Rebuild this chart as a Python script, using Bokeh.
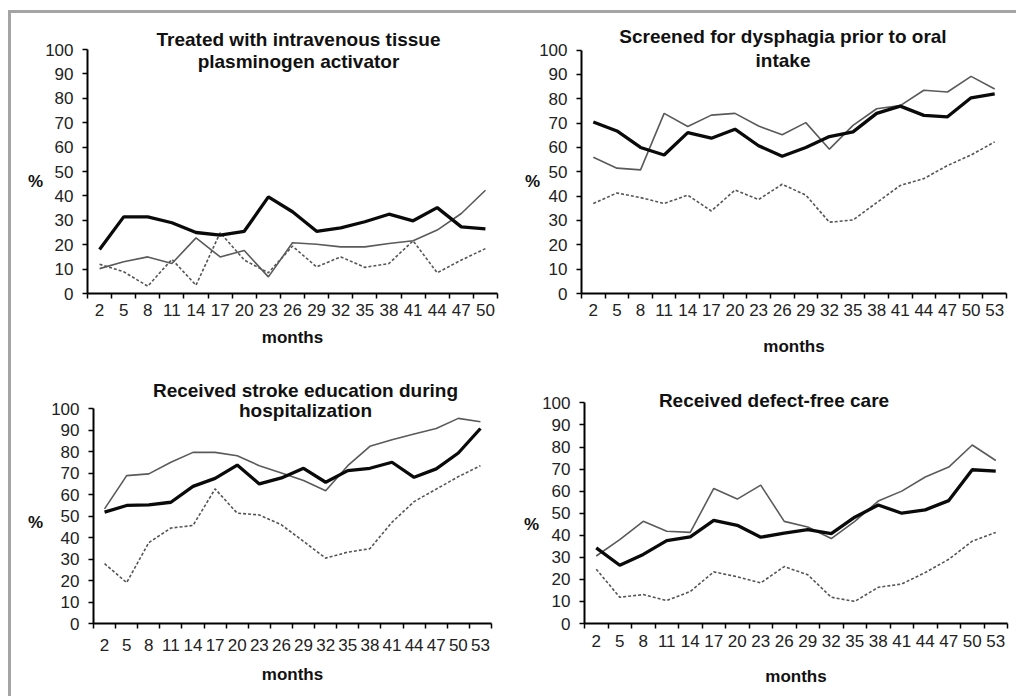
from bokeh.plotting import figure
from bokeh.layouts import row, column
from bokeh.models import Range1d, FixedTicker, Label
from bokeh.embed import file_html
from bokeh.resources import INLINE

# ---------------- data ----------------
months_a = [2, 5, 8, 11, 14, 17, 20, 23, 26, 29, 32, 35, 38, 41, 44, 47, 50]
months_b = [2, 5, 8, 11, 14, 17, 20, 23, 26, 29, 32, 35, 38, 41, 44, 47, 50, 53]
y_ticks = [0, 10, 20, 30, 40, 50, 60, 70, 80, 90, 100]

title_tpa = ["Treated with intravenous tissue", "plasminogen activator"]
tpa_thick = [18, 31.4, 31.4, 29, 25, 23.9, 25.5, 39.6, 33.5, 25.5, 26.9, 29.4, 32.5, 29.8, 35.2, 27.3, 26.5]
tpa_thin = [10.2, 13, 15, 12.3, 22.8, 15, 17.6, 6.8, 20.8, 20.2, 19.1, 19.1, 20.5, 21.6, 26, 32.8, 42.3]
tpa_dash = [12, 8.9, 3, 14, 3.4, 24.9, 13.7, 8.5, 19.4, 10.9, 15, 10.7, 12.3, 21.6, 8.5, 13.7, 18.4]

title_dys = ["Screened for dysphagia prior to oral", "intake"]
dys_thick = [70.5, 66.8, 60, 56.9, 66.1, 63.8, 67.5, 60.7, 56.4, 60, 64.5, 66.4, 74, 77, 73.2, 72.6, 80.4, 82]
dys_thin = [56, 51.5, 50.8, 74, 68.6, 73.3, 74, 68.8, 65.2, 70.2, 59.3, 69.1, 75.9, 77.2, 83.5, 82.8, 89.2, 84]
dys_dash = [37, 41.3, 39.4, 37, 40.4, 33.9, 42.5, 38.6, 44.9, 40.4, 29.3, 30.2, 37.3, 44.4, 47.2, 52.6, 56.9, 62.3]

title_edu = ["Received stroke education during", "hospitalization"]
edu_thick = [51.8, 54.9, 55.2, 56.4, 63.8, 67.5, 73.7, 64.9, 67.7, 72.2, 65.7, 71.1, 72.2, 75, 68, 71.9, 79.3, 90.7]
edu_thin = [53.3, 68.8, 69.6, 75, 79.6, 79.6, 78, 73.4, 70, 66.5, 61.7, 73.4, 82.4, 85.5, 88.1, 90.7, 95.4, 93.8]
edu_dash = [27.8, 19, 37.6, 44.4, 45.6, 62.6, 51.3, 50.5, 45.9, 38.2, 30.4, 33.2, 34.8, 47.1, 56.7, 62.5, 68.3, 73.4]

title_dfc = ["Received defect-free care"]
dfc_thick = [34.3, 26.4, 31.3, 37.6, 39.3, 46.7, 44.5, 39.1, 41, 42.5, 40.7, 48.2, 53.7, 50, 51.5, 55.7, 69.7, 69.1]
dfc_thin = [30.6, 38, 46.3, 41.8, 41.3, 61.2, 56.4, 62.7, 46.3, 43.7, 38.5, 46.3, 55.5, 60, 66.4, 70.9, 80.9, 73.9]
dfc_dash = [24.6, 11.9, 13.1, 10.4, 14.5, 23.4, 21.2, 18.4, 25.8, 22.1, 11.9, 10, 16.4, 17.9, 23.1, 29.1, 37.3, 41.3]

FONT = "Liberation Sans"


def make_panel(months, thick, thin, dashed, title, width, height,
               mbl, mbr, t100, b0, title_x_off, title_ys,
               xl_standoff, xal_standoff, yal_standoff, pct_shift):
    step = months[1] - months[0]
    lo, hi = months[0] - step / 2, months[-1] + step / 2
    mbt = 2
    px_per_unit = (b0 - t100) / 100.0
    y_top = 100 + (t100 - mbt) / px_per_unit
    p = figure(width=width, height=height, output_backend="svg", toolbar_location=None,
               x_range=Range1d(lo, hi), y_range=Range1d(0, y_top),
               min_border_left=mbl, min_border_right=mbr,
               min_border_top=mbt, min_border_bottom=height - b0)
    p.xgrid.visible = False
    p.ygrid.visible = False
    p.outline_line_color = None
    p.background_fill_color = "white"
    p.border_fill_color = "white"

    bounds = [m - step / 2 for m in months] + [months[-1] + step / 2]
    xa = p.xaxis[0]
    xa.ticker = FixedTicker(ticks=months, minor_ticks=bounds)
    xa.major_tick_in = 0
    xa.major_tick_out = 0
    xa.minor_tick_in = 0
    xa.minor_tick_out = 5
    xa.minor_tick_line_color = "black"
    xa.minor_tick_line_width = 1.5
    xa.axis_line_width = 2
    xa.axis_line_color = "black"
    xa.major_label_text_font = FONT
    xa.major_label_text_font_size = "17px"
    xa.major_label_text_color = "#222222"
    xa.major_label_standoff = xl_standoff
    xa.axis_label = "months"
    xa.axis_label_text_font = FONT
    xa.axis_label_text_font_size = "17px"
    xa.axis_label_text_font_style = "bold"
    xa.axis_label_text_color = "#111111"
    xa.axis_label_standoff = xal_standoff

    ya = p.yaxis[0]
    ya.ticker = FixedTicker(ticks=y_ticks)
    ya.bounds = (y_ticks[0], y_ticks[-1])
    ya.major_tick_in = 0
    ya.major_tick_out = 5
    ya.major_tick_line_width = 1.5
    ya.minor_tick_in = 0
    ya.minor_tick_out = 0
    ya.axis_line_width = 2
    ya.axis_line_color = "black"
    ya.major_label_text_font = FONT
    ya.major_label_text_font_size = "17px"
    ya.major_label_text_color = "#222222"
    ya.major_label_standoff = 9
    # leading empty lines push the "%" down toward the middle of the 0-100 axis
    ya.axis_label = "\n\n%"
    ya.axis_label_text_line_height = pct_shift / 17.0
    ya.axis_label_orientation = "horizontal"
    ya.axis_label_text_font = FONT
    ya.axis_label_text_font_size = "17px"
    ya.axis_label_text_font_style = "bold"
    ya.axis_label_text_color = "#111111"
    ya.axis_label_standoff = yal_standoff

    p.line(months, dashed, line_color="#555555", line_width=1.6, line_dash="3 2")
    p.line(months, thin, line_color="#5a5a5a", line_width=1.6)
    p.line(months, thick, line_color="#0a0a0a", line_width=3.3)

    xmid = (months[0] + months[-1]) / 2
    for txt, ty in zip(title, title_ys):
        p.add_layout(Label(x=xmid, y=ty, text=txt, x_offset=title_x_off,
                           text_align="center", text_baseline="alphabetic",
                           text_font=FONT, text_font_size="19px",
                           text_font_style="bold", text_color="#111111"))
    return p


# figure tops are at page y=13 (row 1) and y=360 (row 2)
p1 = make_panel(months_a, tpa_thick, tpa_thin, tpa_dash, title_tpa, 489, 347,
                76, 3, 36, 280, 6, (104.0, 95.1), 5, 9, -1, 24)
p2 = make_panel(months_b, dys_thick, dys_thin, dys_dash, title_dys, 516, 347,
                81, 10, 37, 283, -11, (105.4, 95.9), 5, 18, -4, 24.5)
p3 = make_panel(months_b, edu_thick, edu_thin, edu_dash, title_edu, 489, 336,
                82, 9, 48, 263, 13, (108.4, 99.1), 10, 11, 5, 26.5)
p4 = make_panel(months_b, dfc_thick, dfc_thin, dfc_dash, title_dfc, 516, 336,
                84, 9, 43, 267, -22, (101.0,), 6, 17, 0, 28.5)

BORDER = "3px solid #a4a4a4"
layout = column(row(p1, p2), row(p3, p4),
                styles={"border-top": BORDER, "border-left": BORDER,
                        "margin-top": "10px", "margin-left": "8px"})

open("out.html", "w").write(file_html(layout, INLINE))
